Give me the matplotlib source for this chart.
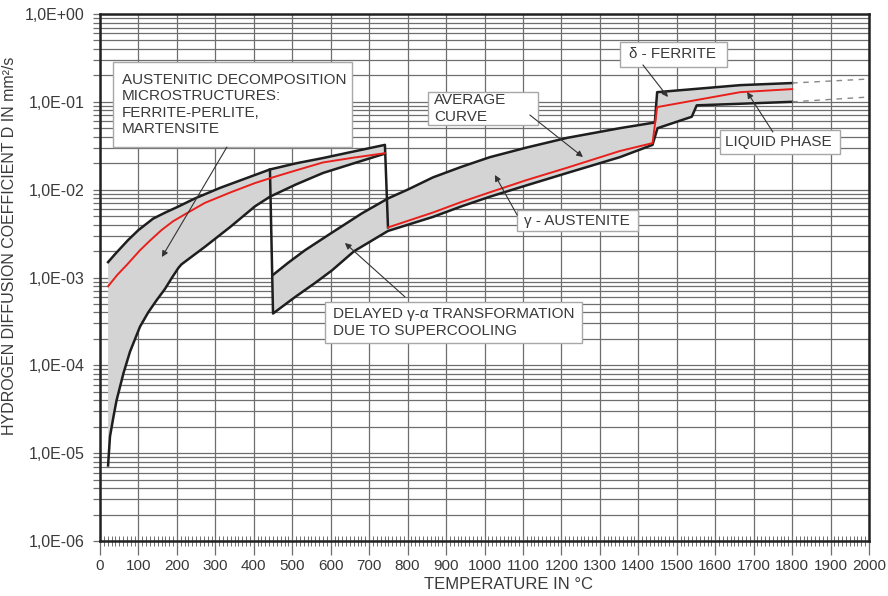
import numpy as np
import matplotlib.pyplot as plt
from matplotlib.patches import Rectangle
from matplotlib.ticker import FixedLocator, FixedFormatter, MultipleLocator, LogLocator, NullFormatter

plt.rcParams['font.family'] = ['Liberation Sans', 'DejaVu Sans']

# band 1: austenitic decomposition microstructures (log10 of D in mm2/s)
t_up1 = [21, 40, 73, 100, 138, 170, 200, 247, 312, 380, 442, 510, 580, 660, 741]
lg_up1 = [-2.825, -2.73, -2.574, -2.46, -2.33, -2.26, -2.20, -2.10, -1.98, -1.87, -1.77, -1.70, -1.64, -1.565, -1.49]
t_low1 = [21, 26, 35, 43, 61, 78, 104, 125, 147, 169, 186, 204, 212, 273, 340, 403, 442, 510, 580, 660, 741]
lg_low1 = [-5.14, -4.81, -4.585, -4.40, -4.09, -3.845, -3.56, -3.40, -3.26, -3.13, -3.01, -2.89, -2.85,
           -2.65, -2.42, -2.19, -2.08, -1.94, -1.81, -1.70, -1.59]
t_red1 = [21, 45, 69, 104, 130, 160, 190, 225, 273, 340, 403, 442, 510, 580, 660, 741]
lg_red1 = [-3.10, -2.97, -2.86, -2.69, -2.58, -2.46, -2.36, -2.27, -2.15, -2.03, -1.925, -1.87, -1.78,
           -1.69, -1.635, -1.585]

# band 2: delayed transformation, gamma austenite, delta ferrite, liquid phase
t_up2 = [450, 490, 533, 603, 681, 749, 800, 866, 940, 1014, 1110, 1215, 1352, 1443, 1449, 1665, 1800]
lg_up2 = [-2.97, -2.83, -2.69, -2.49, -2.27, -2.10, -2.00, -1.86, -1.74, -1.63, -1.52, -1.41, -1.30,
          -1.235, -0.89, -0.81, -0.786]
t_low2 = [450, 505, 560, 603, 661, 749, 866, 940, 1014, 1110, 1215, 1352, 1437, 1450, 1539, 1552, 1800]
lg_low2 = [-3.41, -3.23, -3.06, -2.92, -2.70, -2.47, -2.31, -2.19, -2.08, -1.95, -1.81, -1.63, -1.49,
           -1.30, -1.17, -1.04, -1.00]
t_red2 = [749, 866, 940, 1014, 1110, 1215, 1352, 1437, 1449, 1665, 1800]
lg_red2 = [-2.43, -2.26, -2.14, -2.03, -1.89, -1.75, -1.56, -1.47, -1.06, -0.89, -0.855]

# dashed extension above 1800 C
t_ext = [1800, 2000]
lg_ext_up = [-0.786, -0.74]
lg_ext_low = [-1.00, -0.945]

y_ticks = [1e-6, 1e-5, 1e-4, 1e-3, 1e-2, 1e-1, 1e0]
y_labels = ['1,0E-06', '1,0E-05', '1,0E-04', '1,0E-03', '1,0E-02', '1,0E-01', '1,0E+00']

D = lambda lg: 10.0 ** np.asarray(lg)

fig = plt.figure(figsize=(8.88, 5.96), dpi=100)
ax = fig.add_axes([100/888, 1-541/596, 769/888, 527/596])
ax.set_yscale('log')
ax.set_xlim(0, 2000)
ax.set_ylim(1e-6, 1e0)

txt = '#3a3a3a'
gcol = '#6e6e6e'

# grid
ax.xaxis.set_major_locator(MultipleLocator(100))
ax.xaxis.set_minor_locator(MultipleLocator(10))
ax.yaxis.set_major_locator(FixedLocator(y_ticks))
ax.yaxis.set_major_formatter(FixedFormatter(y_labels))
ax.yaxis.set_minor_locator(LogLocator(base=10, subs=np.arange(2, 10)))
ax.yaxis.set_minor_formatter(NullFormatter())
ax.grid(which='major', axis='x', color=gcol, lw=0.9)
ax.grid(which='both', axis='y', color=gcol, lw=0.9)
ax.set_axisbelow(True)

ax.tick_params(axis='x', which='major', direction='out', length=10, width=0.9, color=gcol,
               labelsize=11, labelcolor=txt, pad=3)
ax.tick_params(axis='x', which='minor', direction='inout', length=7, width=0.7, color=gcol)
ax.tick_params(axis='y', which='both', direction='out', length=5, width=0.9, color=gcol,
               labelsize=11.5, labelcolor=txt, pad=6)
for s in ax.spines.values():
    s.set_linewidth(1.8)
    s.set_color('#222222')

# filled bands
fill_c = '#d4d4d4'
ax.fill(t_up1 + t_low1[::-1], D(lg_up1 + lg_low1[::-1]), color=fill_c, lw=0, zorder=2)
ax.fill(t_up2 + t_low2[::-1], D(lg_up2 + lg_low2[::-1]), color=fill_c, lw=0, zorder=2)

lc = '#1e1e1e'
lw = 1.8
red = '#e8201c'
ax.plot(t_up1 + [t_red2[0]], D(lg_up1 + [lg_red2[0]]), color=lc, lw=lw, zorder=4)
ax.plot(t_low1, D(lg_low1), color=lc, lw=lw, zorder=4)
i440 = t_up1.index(442)
ax.plot([t_up1[i440]] + t_low2, D([lg_up1[i440]] + lg_low2), color=lc, lw=lw, zorder=4)
ax.plot(t_up2, D(lg_up2), color=lc, lw=lw, zorder=4)
ax.plot(t_red1, D(lg_red1), color=red, lw=1.4, zorder=5)
ax.plot(t_red2, D(lg_red2), color=red, lw=1.4, zorder=5)
ax.plot(t_ext, D(lg_ext_up), color='#888888', lw=1.0, ls=(0, (4, 4)), zorder=4)
ax.plot(t_ext, D(lg_ext_low), color='#888888', lw=1.0, ls=(0, (4, 4)), zorder=4)


def ax_pos(px, py):
    # position in the picture (pixels) -> axes fraction
    return (px - 100) / 769, 1 - (py - 14) / 527


# label boxes: text, box left/right/top/bottom, text left (pixels)
labels = [
    ('AUSTENITIC DECOMPOSITION\nMICROSTRUCTURES:\nFERRITE-PERLITE,\nMARTENSITE', 113, 352, 62, 147, 122),
    ('AVERAGE\nCURVE', 428, 538, 92, 125, 434),
    ('γ - AUSTENITE', 517, 638, 210, 231, 524),
    ('δ - FERRITE', 620, 727, 42, 67, 629),
    ('LIQUID PHASE', 720, 840, 130, 154, 725),
    ('DELAYED γ-α TRANSFORMATION\nDUE TO SUPERCOOLING', 325, 582, 302, 343, 333),
]
for s, x0, x1, y0, y1, tx in labels:
    bx, by = ax_pos(x0, y1)
    bw = (x1 - x0) / 769
    bh = (y1 - y0) / 527
    ax.add_patch(Rectangle((bx, by), bw, bh, transform=ax.transAxes, fc='white',
                           ec='#a8a8a8', lw=1.0, zorder=6))
    tx_, ty_ = ax_pos(tx, (y0 + y1) / 2)
    ax.text(tx_, ty_, s, transform=ax.transAxes, ha='left', va='center', fontsize=11,
            color=txt, linespacing=1.2, zorder=7)

# arrows: start (T, log D) -> tip (T, log D)
arrows = [
    ((330, -1.515), (161, -2.767)),
    ((1118, -1.15), (1256, -1.628)),
    ((1085, -2.29), (1027, -1.833)),
    ((1412, -0.58), (1477, -0.945)),
    ((1750, -1.343), (1683, -0.888)),
    ((793, -3.22), (637, -2.607)),
]
for (t0, l0), (t1, l1) in arrows:
    ax.annotate('', xy=(t1, 10 ** l1), xytext=(t0, 10 ** l0), zorder=8,
                arrowprops=dict(arrowstyle='-|>', color='#333333', lw=0.8,
                                mutation_scale=9, shrinkA=0, shrinkB=0))

ax.set_xlabel('TEMPERATURE IN °C', fontsize=12, color=txt)
ax.set_ylabel('HYDROGEN DIFFUSION COEFFICIENT D IN mm²/s', fontsize=11.5, color=txt)
ax.xaxis.set_label_coords(0.5306, -0.068)
ax.yaxis.set_label_coords(-0.108, 0.56)

fig.savefig('out.png', dpi=100)
